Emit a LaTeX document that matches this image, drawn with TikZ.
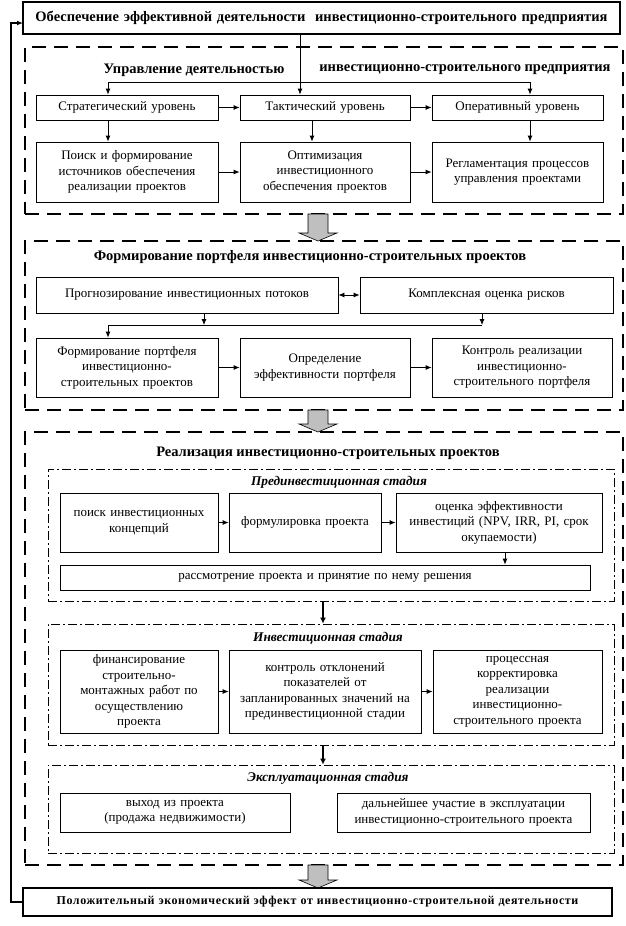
\documentclass[tikz,border=0pt]{standalone}
\usepackage{fontspec}
\setmainfont{Liberation Serif}
\usetikzlibrary{arrows.meta}
\newcommand\mybox[7][]{%
 \pgfmathsetmacro\myW{#5-#3}\pgfmathsetmacro\myH{#6-#4}%
 \pgfmathsetmacro\myCX{(#3+#5)/2}\pgfmathsetmacro\myCY{(#4+#6)/2}%
 \pgfmathsetmacro\myTW{#5-#3-6}%
 \node[box,minimum width=\myW pt,minimum height=\myH pt,text width=\myTW pt,#1] (#2) at (\myCX,\myCY) {#7};}
\newcommand\blockarrow[3]{%
 \filldraw[fill=gray!50,draw=black,line width=0.6pt,line join=miter]
  (308,#1) -- (328,#1) -- (328,#2) -- (337,#2) -- (318,#3) -- (299,#2) -- (308,#2) -- cycle;}
\begin{document}
\begin{tikzpicture}[x=1pt,y=-1pt,
 box/.style={draw,line width=0.8pt,inner sep=1pt,align=center,font=\fontsize{13}{15.5}\selectfont},
 thickbox/.style={box,line width=2.4pt,font=\fontsize{14.5}{16}\selectfont\bfseries},
 dashbox/.style={draw,line width=2.4pt,dash pattern=on 14pt off 8pt,inner sep=0pt},
 dotbox/.style={draw,line width=0.8pt,dash pattern=on 9pt off 3pt on 2pt off 3pt,inner sep=0pt},
 head/.style={font=\fontsize{14.5}{16}\selectfont\bfseries,inner sep=0pt},
 stage/.style={font=\fontsize{13.3}{15}\selectfont\bfseries\itshape,inner sep=0pt},
 arr/.style={line width=0.8pt,-{Latex[length=6pt,width=5pt]}},
 ln/.style={line width=0.8pt},
 tarr/.style={line width=2.2pt,-{Latex[length=6pt,width=6pt]}},
 fb/.style={line width=2pt,-{Latex[length=6pt,width=5pt]}}]
\useasboundingbox (0,0) rectangle (626,926);
% top
\mybox[thickbox]{T}{23}{2}{620}{34}{Обеспечение эффективной деятельности \ инвестиционно-строительного предприятия}
% section 1
\mybox[dashbox,draw]{D1}{25}{47}{623}{214}{}
\node[head] (h1a) at (194,70) {Управление деятельностью};
\node[head] (h1b) at (465,70) {инвестиционно-строительного предприятия};
\mybox{S1}{36}{95}{218}{120}{Стратегический уровень}
\mybox{S2}{240}{95}{410}{120}{Тактический уровень}
\mybox{S3}{432}{95}{603}{120}{Оперативный уровень}
\mybox{R1}{36}{142}{218}{202}{Поиск и формирование\\ источников обеспечения\\ реализации проектов}
\mybox{R2}{240}{142}{410}{202}{Оптимизация\\ инвестиционного\\ обеспечения проектов}
\mybox{R3}{432}{142}{603}{202}{Регламентация процессов\\ управления проектами}
\coordinate (xB) at (300,0);
\coordinate (j1) at (108,82);
\coordinate (j2) at (530,82);
\coordinate (xD) at (312,0);
\draw[arr] (T.south -| xB) -- (S2.north -| xB);
\draw[ln] (j1) -- (j2);
\draw[arr] (j1) -- (S1.north -| j1);
\draw[arr] (j2) -- (S3.north -| j2);
\draw[arr] (S1) -- (S2);
\draw[arr] (S2) -- (S3);
\draw[arr] (S1.south -| j1) -- (R1.north -| j1);
\draw[arr] (S2.south -| xD) -- (R2.north -| xD);
\draw[arr] (S3.south -| j2) -- (R3.north -| j2);
\draw[arr] (R1) -- (R2);
\draw[arr] (R2) -- (R3);
\blockarrow{214}{233}{241}
% section 2
\mybox[dashbox,draw]{D2}{25}{241}{623}{410}{}
\node[head] (h2) at (310,257) {Формирование портфеля инвестиционно-строительных проектов};
\mybox{A1}{36}{277}{338}{313}{Прогнозирование инвестиционных потоков}
\mybox{A2}{360}{277}{613}{313}{Комплексная оценка рисков}
\mybox{B1}{36}{338}{218}{397}{Формирование портфеля\\ инвестиционно-\\ строительных проектов}
\mybox{B2}{240}{338}{410}{397}{Определение\\ эффективности портфеля}
\mybox{B3}{432}{338}{612}{397}{Контроль реализации\\ инвестиционно-\\ строительного портфеля}
\draw[line width=0.8pt,{Latex[length=6pt,width=5pt]}-{Latex[length=6pt,width=5pt]}] (A1) -- (A2);
\coordinate (j3) at (204,325);
\coordinate (j4) at (482,325);
\coordinate (j5) at (108,325);
\draw[arr] (A1.south -| j3) -- (j3);
\draw[arr] (A2.south -| j4) -- (j4);
\draw[ln] (j5) -- (j4);
\draw[arr] (j5) -- (B1.north -| j5);
\draw[arr] (B1) -- (B2);
\draw[arr] (B2) -- (B3);
\blockarrow{410}{424}{432}
% section 3
\mybox[dashbox,draw]{D3}{25}{432}{623}{865}{}
\node[head] (h3) at (328,453) {Реализация инвестиционно-строительных проектов};
\mybox[dotbox]{P}{48}{469}{614}{601}{}
\node[stage] (hp) at (339,482) {Прединвестиционная стадия};
\mybox{P1}{60}{493}{218}{552}{поиск инвестиционных\\ концепций}
\mybox{P2}{229}{493}{381}{552}{формулировка проекта}
\mybox{P3}{396}{493}{602}{552}{оценка эффективности\\ инвестиций (NPV, IRR, PI, срок\\ окупаемости)}
\mybox{P4}{60}{565}{590}{590}{рассмотрение проекта и принятие по нему решения}
\draw[arr] (P1) -- (P2);
\draw[arr] (P2) -- (P3);
\coordinate (xP) at (505,0);
\draw[arr] (P3.south -| xP) -- (P4.north -| xP);
\mybox[dotbox]{I}{48}{624}{614}{745}{}
\node[stage] (hi) at (328,638) {Инвестиционная стадия};
\mybox{I1}{60}{650}{218}{733}{финансирование\\ строительно-\\ монтажных работ по\\ осуществлению\\ проекта}
\mybox{I2}{229}{650}{421}{733}{контроль отклонений\\ показателей от\\ запланированных значений на\\ прединвестиционной стадии}
\mybox{I3}{433}{650}{602}{733}{процессная\\ корректировка\\ реализации\\ инвестиционно-\\ строительного проекта}
\draw[arr] (I1) -- (I2);
\draw[arr] (I2) -- (I3);
\mybox[dotbox]{E}{48}{765}{614}{853}{}
\node[stage] (he) at (328,778) {Эксплуатационная стадия};
\mybox{E1}{60}{793}{290}{832}{выход из проекта\\ (продажа недвижимости)}
\mybox{E2}{337}{793}{590}{832}{дальнейшее участие в эксплуатации\\ инвестиционно-строительного проекта}
\coordinate (xT) at (323,0);
\draw[tarr] (P.south -| xT) -- (I.north -| xT);
\draw[tarr] (I.south -| xT) -- (E.north -| xT);
\blockarrow{865}{880}{888}
% bottom
\mybox[thickbox,font=\fontsize{12}{14}\selectfont\bfseries\addfontfeature{LetterSpace=5}]{BT}{23}{888}{612}{916}{Положительный экономический эффект от инвестиционно-строительной деятельности}
\coordinate (fbin) at (23,23);
\draw[fb] (BT.west) -- ++(-11,0) |- (fbin);
\end{tikzpicture}
\end{document}
